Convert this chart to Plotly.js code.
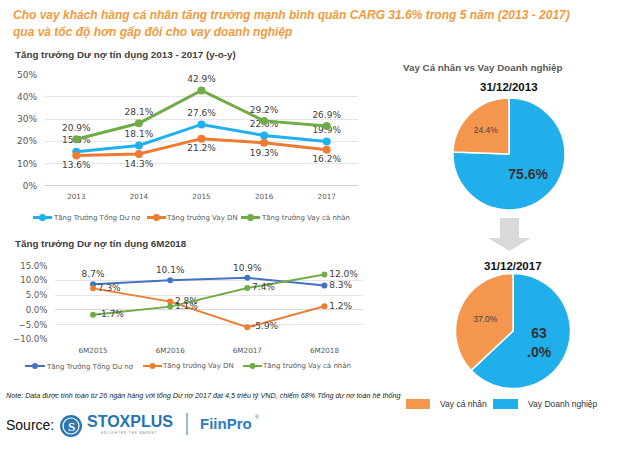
<!DOCTYPE html>
<html><head><meta charset="utf-8">
<script src="https://cdn.plot.ly/plotly-3.0.1.min.js"></script>
<style>html,body{margin:0;padding:0;background:#fff}#chart{width:640px;height:455px}</style>
</head><body><div id="chart"></div>
<script>
// ---------------- data ----------------
const years = ['2013', '2014', '2015', '2016', '2017'];
const totalYoY = [15.3, 18.1, 27.6, 22.6, 19.9];
const corpYoY = [13.6, 14.3, 21.2, 19.3, 16.2];
const retailYoY = [20.9, 28.1, 42.9, 29.2, 26.9];

const halfYears = ['6M2015', '6M2016', '6M2017', '6M2018'];
const total6M = [8.7, 10.1, 10.9, 8.3];
const corp6M = [7.3, 2.8, -5.9, 1.2];
const retail6M = [-1.7, 1.1, 7.4, 12.0];

const lineNames = ['Tăng Trưởng Tổng Dư nợ', 'Tăng trưởng Vay DN', 'Tăng trưởng Vay cá nhân'];
const pieLabels = ['Vay Doanh nghiệp', 'Vay cá nhân'];
const pie2013 = [75.6, 24.4];
const pie2017 = [63.0, 37.0];
const pieLegendOrder = ['Vay cá nhân', 'Vay Doanh nghiệp'];

const titleLine1 = 'Cho vay khách hàng cá nhân tăng trưởng mạnh bình quân CARG 31.6% trong 5 năm (2013 - 2017)';
const titleLine2 = 'qua và tốc độ hơn gấp đôi cho vay doanh nghiệp';
const noteText = 'Note: Data được tính toán từ 26 ngân hàng với tổng Dư nợ 2017 đạt 4,5 triệu tỷ VND, chiếm 68% Tổng dư nợ toàn hệ thống';

// ---------------- helpers ----------------
const W = 640, H = 455;
const X = p => p / W;
const Y = p => 1 - p / H;
const pct = v => v.toFixed(1) + '%';

const topColors = ['#1FB1EE', '#EE7B33', '#70AD47'];
const botColors = ['#4472C4', '#ED7D31', '#70AD47'];
const pieBlue = '#20AFEA', pieOrange = '#F5964F';
const labelFont = {family: 'DejaVu Sans', size: 9, color: '#404040'};

// ---------------- traces ----------------
const topSeries = [totalYoY, corpYoY, retailYoY];
const topPos = ['top center', 'bottom center', 'top center'];
const traces = [];
topSeries.forEach((s, i) => {
  traces.push({
    type: 'scatter', mode: 'lines+markers+text', x: years, y: s,
    xaxis: 'x', yaxis: 'y', name: lineNames[i],
    line: {color: topColors[i], width: 3}, marker: {color: topColors[i], size: 8},
    text: s.map(pct), textposition: topPos[i], textfont: labelFont,
    cliponaxis: false, showlegend: false, hoverinfo: 'skip'
  });
});
const botSeries = [total6M, corp6M, retail6M];
const botPos = [['top center', 'top center', 'top center', 'middle right'], 'middle right', 'middle right'];
botSeries.forEach((s, i) => {
  traces.push({
    type: 'scatter', mode: 'lines+markers+text', x: halfYears, y: s,
    xaxis: 'x2', yaxis: 'y2', name: lineNames[i],
    line: {color: botColors[i], width: 2}, marker: {color: botColors[i], size: 6},
    text: s.map(pct), textposition: botPos[i], textfont: labelFont,
    cliponaxis: false, showlegend: false, hoverinfo: 'skip'
  });
});

function pieText(vals, wrapBig) {
  return vals.map((v, i) => {
    let t = pct(v);
    if (i === 0) { if (wrapBig) t = t.replace('.', '<br>.'); t = '<b>' + t + '</b>'; }
    return t;
  });
}
function pieTrace(vals, wrapBig, cx, cy, r) {
  return {
    type: 'pie', values: vals, labels: pieLabels, sort: false,
    direction: 'clockwise', rotation: 0,
    marker: {colors: [pieBlue, pieOrange], line: {color: '#ffffff', width: 1.5}},
    textinfo: 'text', text: pieText(vals, wrapBig), textposition: 'inside',
    insidetextorientation: 'horizontal',
    textfont: {family: 'Liberation Sans', size: [14, 8.5], color: ['#333333', '#404040']},
    domain: {x: [X(cx - r), X(cx + r)], y: [Y(cy + r), Y(cy - r)]},
    showlegend: false, hoverinfo: 'skip'
  };
}
traces.push(pieTrace(pie2013, false, 509, 154, 56));
traces.push(pieTrace(pie2017, true, 513, 331, 57.5));

// ---------------- annotations & shapes ----------------
const ann = [];
const shapes = [];
function txt(text, x, y, font, xanchor) {
  ann.push({text: text, x: X(x), y: Y(y), xref: 'paper', yref: 'paper', showarrow: false,
    xanchor: xanchor || 'left', yanchor: 'middle', font: font, borderpad: 0});
}
const titleFont = {family: 'Liberation Sans', size: 12, weight: 'bold', style: 'italic', color: '#F39A3D'};
txt(titleLine1, 12, 15, titleFont);
txt(titleLine2, 12, 32, titleFont);
const subFont = {family: 'Liberation Sans', size: 9.8, weight: 'bold', color: '#404040'};
txt('Tăng trưởng Dư nợ tín dụng 2013 - 2017 (y-o-y)', 14, 54, subFont);
txt('Tăng trưởng Dư nợ tín dụng 6M2018', 14, 243, subFont);
txt('Vay Cá nhân vs Vay Doanh nghiệp', 483, 67, {family: 'Liberation Sans', size: 9.8, weight: 'bold', color: '#595959'}, 'center');
txt('31/12/2013', 509, 87, {family: 'Liberation Sans', size: 11.5, weight: 'bold', color: '#111111'}, 'center');
txt('31/12/2017', 513, 266, {family: 'Liberation Sans', size: 11.5, weight: 'bold', color: '#111111'}, 'center');
txt(noteText, 5, 395, {family: 'Liberation Sans', size: 7.2, style: 'italic', color: '#222222'});

// manual line legends
function lineLegend(colors, samples, textX, y, lw, ms) {
  lineNames.forEach((n, i) => {
    const [a, b] = samples[i];
    shapes.push({type: 'line', xref: 'paper', yref: 'paper', x0: X(a), x1: X(b), y0: Y(y), y1: Y(y),
      line: {color: colors[i], width: lw}});
    const c = (a + b) / 2;
    shapes.push({type: 'circle', xref: 'paper', yref: 'paper', x0: X(c - ms / 2), x1: X(c + ms / 2),
      y0: Y(y + ms / 2), y1: Y(y - ms / 2), fillcolor: colors[i], line: {color: colors[i], width: 0}});
    txt(n, textX[i], y, {family: 'DejaVu Sans', size: 7, color: '#595959'});
  });
}
lineLegend(topColors, [[33, 52], [147, 166], [241, 260]], [52, 165, 260], 217.5, 3, 7);
lineLegend(botColors, [[25, 45], [143, 162], [243, 262]], [45, 161, 261], 366, 2, 6);

// pie legend
const pieLegColors = {'Vay cá nhân': pieOrange, 'Vay Doanh nghiệp': pieBlue};
const pieLegRect = [[406, 430], [493, 518]];
const pieLegText = [439, 527];
pieLegendOrder.forEach((n, i) => {
  shapes.push({type: 'rect', xref: 'paper', yref: 'paper', x0: X(pieLegRect[i][0]), x1: X(pieLegRect[i][1]),
    y0: Y(409), y1: Y(399), fillcolor: pieLegColors[n], line: {width: 0}});
  txt(n, pieLegText[i], 404, {family: 'Liberation Sans', size: 8.5, color: '#333333'});
});

// arrow between pies
const arrowPts = [[500, 218], [519, 218], [519, 238], [531, 238], [509.5, 251], [488, 238], [500, 238]];
shapes.push({type: 'path', xref: 'paper', yref: 'paper',
  path: 'M' + arrowPts.map(p => X(p[0]) + ',' + Y(p[1])).join('L') + 'Z',
  fillcolor: '#D9D9D9', line: {width: 0}});

// source + logos
txt('Source:', 5, 425, {family: 'Liberation Sans', size: 14, color: '#111111'});
shapes.push({type: 'circle', xref: 'paper', yref: 'paper', x0: X(60), x1: X(82), y0: Y(437), y1: Y(415),
  fillcolor: '#2D78B4', line: {width: 0}});
shapes.push({type: 'circle', xref: 'paper', yref: 'paper', x0: X(63), x1: X(79), y0: Y(434), y1: Y(418),
  fillcolor: 'rgba(0,0,0,0)', line: {color: '#ffffff', width: 1.2}});
txt('S', 71, 426, {family: 'Liberation Serif', size: 13, weight: 'bold', color: '#ffffff'}, 'center');
txt('STOXPLUS', 86, 421.5, {family: 'Liberation Sans', size: 16, weight: 'bold', color: '#2674B0'});
txt('E N L I G H T E N   T H E   M A R K E T', 129, 432.5, {family: 'Liberation Sans', size: 3.2, color: '#888888'}, 'center');
shapes.push({type: 'line', xref: 'paper', yref: 'paper', x0: X(187), x1: X(187), y0: Y(435), y1: Y(413),
  line: {color: '#2674B0', width: 1}});
txt('FiinPro', 199, 423, {family: 'Liberation Sans', size: 15, weight: 'bold', color: '#2B7CC0'});
txt('®', 254, 417, {family: 'Liberation Sans', size: 5, color: '#2B7CC0'});

// ---------------- layout ----------------
const tickFontX = {family: 'DejaVu Sans', size: 7.2, color: '#595959'};
const layout = {
  width: W, height: H, margin: {l: 0, r: 0, t: 0, b: 0},
  paper_bgcolor: '#ffffff', plot_bgcolor: 'rgba(0,0,0,0)', showlegend: false,
  xaxis: {domain: [X(45), X(358)], anchor: 'y', type: 'category', range: [-0.5, 4.5],
    showgrid: false, zeroline: false, showline: false, ticks: '', tickfont: tickFontX,
    ticklabelstandoff: 5, fixedrange: true},
  yaxis: {domain: [Y(185.7), Y(74.7)], anchor: 'x', range: [0, 50], dtick: 10, ticksuffix: '%',
    gridcolor: '#E6E6E6', gridwidth: 1, zeroline: true, zerolinecolor: '#D0D0D0', zerolinewidth: 1,
    showline: false, ticks: '', tickfont: {family: 'DejaVu Sans', size: 9, color: '#595959'},
    ticklabelstandoff: 7, fixedrange: true},
  xaxis2: {domain: [X(54.5), X(363)], anchor: 'y2', type: 'category', range: [-0.5, 3.5],
    showgrid: false, zeroline: false, showline: false, ticks: '', tickfont: tickFontX,
    ticklabelstandoff: 5, fixedrange: true},
  yaxis2: {domain: [Y(339.3), Y(265.7)], anchor: 'x2', range: [-10, 15], dtick: 5, tickformat: '.1f', ticksuffix: '%',
    gridcolor: '#E6E6E6', gridwidth: 1, zeroline: true, zerolinecolor: '#D9D9D9', zerolinewidth: 1,
    showline: false, ticks: '', tickfont: {family: 'DejaVu Sans', size: 8.6, color: '#595959'},
    ticklabelstandoff: 6, fixedrange: true},
  annotations: ann, shapes: shapes
};
Plotly.newPlot('chart', traces, layout, {displayModeBar: false, staticPlot: true});
</script>
</body></html>
